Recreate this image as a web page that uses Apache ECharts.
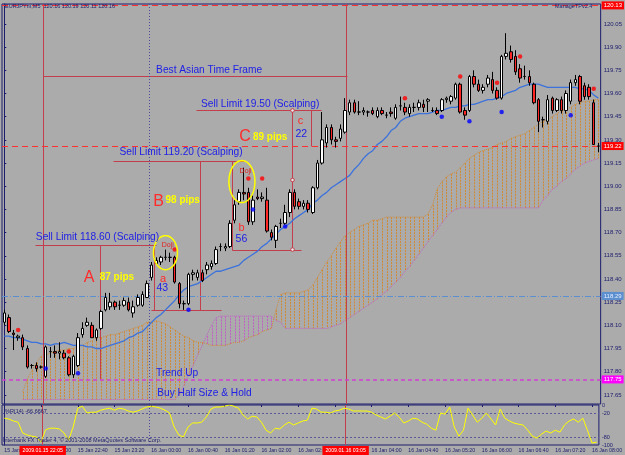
<!DOCTYPE html>
<html lang="en">
<head>
<meta charset="UTF-8">
<title>EURJPYm,M5</title>
<script src="https://cdn.jsdelivr.net/npm/echarts@6/dist/echarts.min.js"></script>
<style>
    html, body { margin: 0; padding: 0; background: #ababab; }
    #main { width: 625px; height: 455px; }
</style>
</head>
<body>
<div id="main"></div>
<script>
// M5 bars, 15 Jan 21:20 -> 16 Jan 08:05
var opens = [118.12,118.15,118.05,118.02,118.02,117.95,117.84,117.84,117.83,117.77,
    117.93,117.93,117.92,117.92,117.89,117.78,117.84,118.04,118.10,118.10,
    118.02,118.08,118.20,118.22,118.25,118.23,118.23,118.25,118.18,118.23,
    118.23,118.28,118.41,118.50,118.51,118.54,118.54,118.54,118.37,118.24,
    118.24,118.43,118.41,118.44,118.46,118.48,118.50,118.61,118.60,118.61,
    118.78,118.90,118.96,118.96,118.77,118.93,118.92,118.91,118.70,118.65,
    118.76,118.76,118.83,118.96,118.90,118.87,118.89,118.83,118.99,119.15,
    119.28,119.38,119.30,119.31,119.35,119.48,119.54,119.48,119.48,119.48,
    119.49,119.45,119.49,119.46,119.48,119.44,119.52,119.51,119.47,119.51,
    119.51,119.53,119.55,119.49,119.49,119.49,119.56,119.55,119.57,119.66,
    119.49,119.49,119.71,119.66,119.62,119.66,119.69,119.62,119.57,119.84,
    119.87,119.84,119.76,119.71,119.71,119.66,119.56,119.43,119.42,119.57,
    119.49,119.56,119.49,119.55,119.67,119.71,119.65,119.64,119.54,119.26];
var closes = [118.18,118.06,118.04,118.03,117.96,117.83,117.84,117.82,117.83,117.96,
    117.93,117.92,117.93,117.89,117.78,117.90,118.02,118.08,118.12,118.02,
    118.07,118.19,118.28,118.25,118.22,118.23,118.26,118.20,118.22,118.28,
    118.30,118.37,118.49,118.52,118.54,118.54,118.54,118.38,118.24,118.24,
    118.43,118.44,118.44,118.39,118.49,118.50,118.59,118.61,118.61,118.76,
    118.88,118.96,118.95,118.77,118.91,118.92,118.93,118.71,118.67,118.74,
    118.76,118.83,118.96,118.87,118.87,118.89,118.85,118.99,119.15,119.30,
    119.38,119.30,119.29,119.37,119.49,119.54,119.48,119.48,119.49,119.48,
    119.47,119.49,119.47,119.46,119.47,119.51,119.52,119.48,119.51,119.51,
    119.54,119.51,119.56,119.49,119.47,119.56,119.57,119.58,119.66,119.48,
    119.46,119.71,119.66,119.62,119.64,119.70,119.62,119.57,119.84,119.86,
    119.82,119.74,119.70,119.71,119.67,119.54,119.42,119.43,119.56,119.49,
    119.56,119.49,119.60,119.67,119.69,119.55,119.58,119.58,119.27,119.26];
var lows = [118.10,118.05,117.94,118.00,117.94,117.82,117.82,117.80,117.82,117.76,
    117.89,117.89,117.88,117.88,117.77,117.76,117.83,118.02,118.09,118.02,
    118.00,118.07,118.19,118.20,118.20,118.20,118.22,118.19,118.15,118.22,
    118.22,118.28,118.39,118.49,118.49,118.52,118.51,118.37,118.21,118.20,
    118.23,118.39,118.39,118.38,118.43,118.46,118.49,118.58,118.58,118.60,
    118.76,118.88,118.91,118.75,118.75,118.91,118.90,118.70,118.65,118.60,
    118.73,118.75,118.80,118.85,118.85,118.85,118.83,118.82,118.98,119.14,
    119.25,119.27,119.25,119.29,119.34,119.46,119.47,119.46,119.46,119.45,
    119.46,119.44,119.46,119.44,119.45,119.43,119.49,119.46,119.45,119.48,
    119.49,119.48,119.48,119.48,119.46,119.48,119.54,119.53,119.56,119.47,
    119.43,119.48,119.64,119.61,119.60,119.64,119.60,119.56,119.56,119.82,
    119.80,119.72,119.67,119.69,119.65,119.53,119.35,119.38,119.40,119.47,
    119.48,119.47,119.47,119.53,119.65,119.53,119.56,119.56,119.27,119.22];
var highs = [118.20,118.17,118.07,118.04,118.04,117.97,117.85,117.86,117.84,117.97,
    117.96,117.97,117.99,117.94,117.90,117.91,118.05,118.12,118.15,118.12,
    118.08,118.20,118.31,118.31,118.26,118.26,118.28,118.28,118.26,118.30,
    118.32,118.39,118.51,118.54,118.55,118.59,118.57,118.55,118.38,118.26,
    118.44,118.46,118.46,118.46,118.51,118.52,118.61,118.63,118.63,118.78,
    118.91,118.98,119.12,118.99,118.94,118.98,118.96,118.99,118.72,118.75,
    118.79,118.88,118.98,118.98,118.92,118.91,118.91,119.00,119.17,119.48,
    119.40,119.40,119.32,119.40,119.57,119.56,119.56,119.55,119.51,119.49,
    119.51,119.51,119.51,119.48,119.51,119.53,119.58,119.54,119.53,119.54,
    119.56,119.56,119.57,119.51,119.51,119.57,119.58,119.59,119.67,119.67,
    119.51,119.72,119.75,119.69,119.66,119.72,119.74,119.64,119.85,119.99,
    119.91,119.88,119.79,119.78,119.75,119.67,119.57,119.45,119.59,119.58,
    119.57,119.58,119.62,119.69,119.72,119.72,119.67,119.66,119.56,119.28];

// blue moving average
var maLine = [118.03,118.03,118.02,118.02,118.01,118.00,117.99,117.99,117.98,117.98,
    117.97,117.98,117.98,117.99,117.98,117.97,117.97,117.97,117.96,117.96,
    117.95,117.95,117.96,117.97,117.98,117.99,118.00,118.02,118.03,118.05,
    118.06,118.09,118.12,118.15,118.17,118.20,118.23,118.26,118.30,118.33,
    118.35,118.36,118.37,118.39,118.41,118.43,118.45,118.45,118.46,118.47,
    118.48,118.49,118.52,118.54,118.56,118.58,118.61,118.63,118.66,118.69,
    118.72,118.74,118.76,118.79,118.81,118.83,118.85,118.89,118.91,118.94,
    118.96,118.99,119.01,119.03,119.05,119.07,119.11,119.14,119.18,119.21,
    119.23,119.27,119.29,119.32,119.36,119.38,119.42,119.44,119.45,119.46,
    119.47,119.47,119.47,119.48,119.49,119.49,119.50,119.51,119.51,119.52,
    119.52,119.53,119.53,119.54,119.55,119.56,119.56,119.57,119.58,119.60,
    119.61,119.62,119.64,119.65,119.66,119.66,119.66,119.65,119.64,119.64,
    119.64,119.64,119.64,119.64,119.64,119.63,119.63,119.62,119.59,119.57];

// ichimoku cloud edges
var spanA = [null,null,null,null,117.67,117.75,117.81,117.86,117.90,117.91,
    117.92,117.93,117.94,117.94,117.95,117.95,117.96,117.97,117.99,118.00,
    118.02,118.02,118.03,118.04,118.04,118.05,118.06,118.07,118.08,118.09,
    118.10,118.12,118.12,118.13,118.12,118.11,118.09,118.07,118.05,118.03,
    118.02,118.00,117.99,117.99,117.98,117.97,117.97,117.97,117.97,117.98,
    117.99,117.99,118.00,118.02,118.03,118.04,118.06,118.07,118.08,118.20,
    118.30,118.31,118.31,118.31,118.31,118.32,118.33,118.36,118.41,118.46,
    118.51,118.55,118.60,118.64,118.68,118.70,118.72,118.74,118.75,118.76,
    118.78,118.78,118.79,118.80,118.80,118.80,118.80,118.80,118.80,118.80,
    118.80,118.80,118.82,118.88,118.98,119.03,119.06,119.08,119.09,119.12,
    119.15,119.18,119.20,119.22,119.23,119.24,119.25,119.27,119.28,119.29,
    119.31,119.32,119.33,119.34,119.36,119.38,119.40,119.42,119.43,119.45,
    119.47,119.49,119.50,119.51,119.53,119.54,119.55,119.55,119.56,119.56];
var spanB = [null,null,null,null,117.62,117.62,117.62,117.62,117.62,117.62,
    117.62,117.62,117.62,117.62,117.62,117.62,117.62,117.62,117.62,117.62,
    117.62,117.62,117.62,117.62,117.62,117.62,117.62,117.62,117.62,117.62,
    117.62,117.62,117.62,117.62,117.62,117.62,117.62,117.62,117.65,117.71,
    117.78,117.84,117.91,117.97,118.04,118.10,118.15,118.16,118.16,118.16,
    118.16,118.16,118.16,118.16,118.16,118.16,118.16,118.16,118.16,118.13,
    118.12,118.08,118.08,118.08,118.08,118.08,118.08,118.08,118.08,118.08,
    118.08,118.09,118.10,118.11,118.13,118.15,118.17,118.19,118.21,118.23,
    118.25,118.27,118.30,118.32,118.35,118.38,118.41,118.45,118.48,118.52,
    118.56,118.60,118.64,118.68,118.72,118.76,118.80,118.83,118.85,118.86,
    118.86,118.86,118.86,118.86,118.86,118.86,118.86,118.86,118.86,118.86,
    118.86,118.86,118.86,118.86,118.86,118.86,118.86,118.91,118.94,118.98,
    119.00,119.03,119.05,119.08,119.11,119.13,119.15,119.16,119.17,119.18];

// fractals [bar, price]
var fractalUp = [[3,118.07],[14,117.93],[37,118.59],[53,119.05],[56,119.05],[87,119.57],[99,119.71],[107,119.67],[112,119.84],[128,119.63]];
var fractalDown = [[9,117.82],[16,117.79],[40,118.20],[54,118.85],[61,118.74],[95,119.45],[101,119.42],[108,119.48],[123,119.46]];

// Williams %R(14)
var wpr = [-33,-35,-40,-43,-70,-75,-78,-80,-93,-62,
    -58,-58,-60,-70,-88,-55,-8,-3,-20,-18,
    -18,-13,-10,-8,-13,-8,-10,-15,-18,-15,
    -10,-5,-3,-5,-8,-13,-20,-55,-75,-80,
    -55,-45,-45,-43,-30,-10,-5,-5,-3,0,
    -3,-8,-25,-35,-28,-30,-43,-63,-70,-58,
    -60,-50,-43,-50,-45,-40,-38,-8,-10,-18,
    -18,-20,-15,-13,-8,-10,-15,-15,-15,-15,
    -18,-25,-30,-35,-28,-20,-30,-45,-40,-33,
    -35,-43,-48,-58,-63,-20,-23,-5,-55,-78,
    -63,-8,-25,-43,-33,-20,-35,-50,-10,-33,
    -40,-45,-48,-50,-63,-78,-83,-73,-65,-70,
    -63,-68,-50,-40,-35,-43,-33,-63,-95,-93];

var priceTicks = [117.65,117.80,117.95,118.10,118.25,118.40,118.55,118.70,118.85,119.00,119.15,119.30,119.45,119.60,119.75,119.90,120.05];
var wprTicks = [0, -20, -80, -100];

// horizontal price lines and their right-hand tags
var priceLines = [120.175, 119.26, 118.29, 117.75, 117.90];
var priceTags = ['120.13', '119.22', '118.29', '117.75', '117.90'];

// vertical line objects (bar position) and their time tags
var vLines = [8.37, 74.34];
var vTags = ['2009.01.15 22:05', '2009.01.16 03:05'];
var daySep = [31.51];

// box / trend segments [bar1, price1, bar2, price2]
var segments = [
    [8.37, 119.71, 74.34, 119.71],
    [6.64, 118.62, 33.03, 118.62],
    [20.70, 118.62, 20.70, 117.75],
    [32.60, 118.62, 32.60, 118.20],
    [31.95, 118.20, 47.09, 118.20],
    [23.51, 119.16, 52.06, 119.16],
    [42.55, 119.16, 42.55, 118.20],
    [49.47, 119.16, 49.47, 118.59],
    [49.47, 118.59, 64.39, 118.59],
    [41.68, 119.49, 68.72, 119.49],
    [66.56, 119.49, 66.56, 119.26],
    [62.45, 119.49, 62.45, 118.59]
];
var handles = [[62.45, 119.49], [62.45, 119.04], [62.45, 118.59]];

// chart text objects
var noteTexts = ['Best Asian Time Frame', 'Sell Limit 19.50 (Scalping)', 'Sell Limit 119.20 (Scalping)', 'Sell Limit 118.60 (Scalping)',
    'C', '89 pips', 'c', '22', 'B', '98 pips', 'b', '56', 'A', '87 pips', 'a', '43', 'Doji', 'Doji', 'Trend Up', 'Buy Half Size & Hold'];
var noteBars = [32.96, 42.70, 25.00, 6.85, 52.3, 54.0, 64.3, 64.5, 33.5, 35.0, 51.5, 51.5, 18.4, 20.7, 34.5, 34.3, 35.5, 52.4, 32.96, 33.2];
var notePrices = [119.75, 119.53, 119.22, 118.67, 119.32, 119.32, 119.42, 119.34, 118.90, 118.91, 118.73, 118.66, 118.41, 118.41, 118.40, 118.34, 118.62, 119.10, 117.79, 117.66];
var noteKinds = ['blue', 'blue', 'blue', 'blue', 'big', 'pips', 'small', 'num', 'big', 'pips', 'small', 'num', 'big', 'pips', 'small', 'num', 'doji', 'doji', 'blue', 'blue'];

// doji rings [bar, price]
var rings = [[35.0, 118.57], [51.6, 119.03]];

var navy = '#1c1c6e';
var boxRed = '#c23e4c';
var font = 'Liberation Sans, Arial, sans-serif';

var times = [];
function pad(n) { return n < 10 ? '0' + n : '' + n; }
for (var i = 0; i < opens.length; i++) {
    var d = new Date(Date.UTC(2009, 0, 15, 21, 20) + i * 300000);
    times.push(d.getUTCDate() + ' Jan ' + pad(d.getUTCHours()) + ':' + pad(d.getUTCMinutes()));
}

var candles = opens.map(function (o, i) { return [o, closes[i], lows[i], highs[i]]; });
var kumo = [];
spanA.forEach(function (a, i) { if (a !== null && spanB[i] !== null) kumo.push([i, a, spanB[i]]); });

var kindStyle = {
    blue:  {font: '10.2px ' + font, fill: '#2020e6', align: 'left'},
    big:   {font: '16px ' + font, fill: '#ff2a2a', align: 'center'},
    pips:  {font: 'bold 10px ' + font, fill: '#ffff00', align: 'left'},
    small: {font: '11px ' + font, fill: '#ff2a2a', align: 'center'},
    num:   {font: '10.5px ' + font, fill: '#2020e6', align: 'center'},
    doji:  {font: '7px ' + font, fill: '#e02020', align: 'center'}
};
var tagStyles = [
    {line: {color: '#ff3030', type: [6, 4], width: 1}, bg: '#ff0000', fg: '#ffffff'},
    {line: {color: '#ff3030', type: [6, 4], width: 1}, bg: '#ff0000', fg: '#ffffff'},
    {line: {color: '#5b8fd0', type: [6, 2, 1, 2], width: 1}, bg: '#5b8fd0', fg: '#e6eeff'},
    {line: {color: '#d040d0', type: [4, 3], width: 1.5}, bg: '#ff00ff', fg: '#ffffff'},
    {line: {color: '#ababab', opacity: 0}, bg: '#cfd9cf', fg: '#eef2ee'}
];

function px(v) { return Math.round(v) + 0.5; }

var myChart = echarts.init(document.getElementById('main'));

myChart.setOption({
    animation: false,
    backgroundColor: '#ababab',
    grid: [
        {left: 2, right: 22, top: 4, height: 400, show: true, borderColor: navy, borderWidth: 1},
        {left: 2, right: 22, top: 405, height: 40, show: true, borderColor: navy, borderWidth: 1}
    ],
    xAxis: [
        {type: 'category', gridIndex: 0, data: times, show: false},
        {type: 'value', gridIndex: 0, min: -0.5, max: 129.5, show: false},
        {
            type: 'category', gridIndex: 1, data: times,
            axisLine: {show: false},
            axisTick: {show: true, length: 2, alignWithLabel: true, interval: function (idx) { return idx % 8 === 0; }, lineStyle: {color: navy}},
            axisLabel: {
                interval: function (idx) { return idx % 8 === 0; },
                align: 'left', margin: 3, fontSize: 5.2, color: navy, fontFamily: font
            },
            splitLine: {show: false}
        },
        {type: 'value', gridIndex: 1, min: -0.5, max: 129.5, show: false}
    ],
    yAxis: [
        {
            type: 'value', gridIndex: 0, position: 'right', min: 117.591, max: 120.179,
            splitLine: {show: false},
            axisLine: {show: true, lineStyle: {color: navy}},
            axisTick: {show: true, customValues: priceTicks, length: 2, lineStyle: {color: navy}},
            axisLabel: {customValues: priceTicks, formatter: function (v) { return v.toFixed(2); }, fontSize: 6, color: navy, margin: 3, fontFamily: font}
        },
        {
            type: 'value', gridIndex: 1, position: 'right', min: -100, max: 0,
            splitLine: {show: false},
            axisLine: {show: true, lineStyle: {color: navy}},
            axisTick: {show: false},
            axisLabel: {customValues: wprTicks, fontSize: 5.5, color: navy, margin: 3, fontFamily: font}
        }
    ],
    graphic: [
        {type: 'text', left: 5, top: 3, z: 50, style: {text: 'EURJPYm,M5  120.16 120.19 120.11 120.16', fill: navy, font: '5.5px ' + font}},
        {type: 'text', left: 555, top: 3, z: 50, style: {text: 'ManageTPv2.4', fill: navy, font: '5.5px ' + font}},
        {type: 'text', left: 5, top: 408, z: 50, style: {text: '%R(14) -66.6667', fill: navy, font: '5.5px ' + font}},
        {type: 'text', left: 3, top: 437, z: 50, style: {text: 'Interbank FX Trader 4, \u00a9 2001-2008 MetaQuotes Software Corp.', fill: navy, font: '5.5px ' + font}}
    ],
    series: [
        {
            name: 'kumo', type: 'custom', xAxisIndex: 1, yAxisIndex: 0, z: 1, silent: true,
            data: kumo,
            renderItem: function (params, api) {
                var a = api.coord([api.value(0), api.value(1)]);
                var b = api.coord([api.value(0), api.value(2)]);
                return {
                    type: 'line',
                    shape: {x1: px(a[0]), y1: a[1], x2: px(b[0]), y2: b[1]},
                    style: {stroke: api.value(1) >= api.value(2) ? '#d08a34' : '#c060c4', lineWidth: 1, lineDash: [2, 1]}
                };
            }
        },
        {
            name: 'Senkou A', type: 'line', xAxisIndex: 1, yAxisIndex: 0, z: 2, silent: true,
            data: spanA.map(function (v, i) { return [i, v]; }),
            showSymbol: false, connectNulls: false,
            lineStyle: {color: '#d08a34', width: 1, type: [1, 1]},
            markLine: {
                silent: true, symbol: 'none',
                label: {show: false},
                data: vLines.map(function (v) { return {xAxis: v, lineStyle: {color: boxRed, type: 'solid', width: 1}}; })
                    .concat(daySep.map(function (v) { return {xAxis: v, lineStyle: {color: '#4a4aa0', type: [1, 2], width: 1}}; }))
            }
        },
        {
            name: 'Senkou B', type: 'line', xAxisIndex: 1, yAxisIndex: 0, z: 2, silent: true,
            data: spanB.map(function (v, i) { return [i, v]; }),
            showSymbol: false, connectNulls: false,
            lineStyle: {color: '#c060c4', width: 1, type: [1, 1]}
        },
        {
            name: 'boxes', type: 'custom', xAxisIndex: 1, yAxisIndex: 0, z: 3, silent: true,
            data: segments,
            renderItem: function (params, api) {
                var a = api.coord([api.value(0), api.value(1)]);
                var b = api.coord([api.value(2), api.value(3)]);
                return {
                    type: 'line',
                    shape: {x1: px(a[0]), y1: px(a[1]), x2: px(b[0]), y2: px(b[1])},
                    style: {stroke: boxRed, lineWidth: 1}
                };
            }
        },
        {
            name: 'handles', type: 'custom', xAxisIndex: 1, yAxisIndex: 0, z: 8, silent: true,
            data: handles,
            renderItem: function (params, api) {
                var c = api.coord([api.value(0), api.value(1)]);
                return {type: 'circle', shape: {cx: px(c[0]), cy: c[1], r: 1.8}, style: {fill: '#e8e8e8', stroke: boxRed, lineWidth: 1}};
            }
        },
        {
            name: 'MA', type: 'line', xAxisIndex: 0, yAxisIndex: 0, z: 4, silent: true,
            data: maLine, showSymbol: false,
            lineStyle: {color: '#3c72dc', width: 1.3}
        },
        {
            name: 'EURJPYm', type: 'candlestick', xAxisIndex: 0, yAxisIndex: 0, z: 5, silent: true,
            data: candles, barWidth: 3,
            itemStyle: {color: '#ffffff', color0: '#ff2626', borderColor: '#000000', borderColor0: '#000000', borderWidth: 1},
            markLine: {
                silent: true, symbol: 'none',
                data: priceLines.map(function (v, k) {
                    return {
                        yAxis: v,
                        lineStyle: tagStyles[k].line,
                        label: {
                            show: true, position: 'end', distance: 1, formatter: priceTags[k],
                            backgroundColor: tagStyles[k].bg, color: tagStyles[k].fg,
                            fontSize: 6, padding: [1, 2], fontFamily: font
                        }
                    };
                })
            }
        },
        {
            name: 'fractal up', type: 'scatter', xAxisIndex: 0, yAxisIndex: 0, z: 6, silent: true,
            data: fractalUp, symbol: 'circle', symbolSize: 4.5,
            itemStyle: {color: '#ff0000'}
        },
        {
            name: 'fractal down', type: 'scatter', xAxisIndex: 0, yAxisIndex: 0, z: 6, silent: true,
            data: fractalDown, symbol: 'circle', symbolSize: 4.5,
            itemStyle: {color: '#0000ff'}
        },
        {
            name: 'rings', type: 'custom', xAxisIndex: 1, yAxisIndex: 0, z: 7, silent: true,
            data: rings,
            renderItem: function (params, api) {
                var c = api.coord([api.value(0), api.value(1)]);
                var rx = params.dataIndex === 0 ? 12 : 13, ry = params.dataIndex === 0 ? 17 : 21;
                var pts = [];
                for (var k = 0; k < 48; k++) {
                    var t = k / 48 * Math.PI * 2;
                    pts.push([c[0] + rx * Math.cos(t), c[1] + ry * Math.sin(t)]);
                }
                return {type: 'polygon', shape: {points: pts}, style: {fill: 'none', stroke: '#ffff00', lineWidth: 1.5}};
            }
        },
        {
            name: 'notes', type: 'custom', xAxisIndex: 1, yAxisIndex: 0, z: 9, silent: true,
            data: noteBars.map(function (b, k) { return [b, notePrices[k]]; }),
            renderItem: function (params, api) {
                var k = params.dataIndex;
                var c = api.coord([api.value(0), api.value(1)]);
                var s = kindStyle[noteKinds[k]];
                return {
                    type: 'text', x: c[0], y: c[1],
                    style: {
                        text: noteTexts[k], fill: s.fill, font: s.font,
                        align: s.align, textAlign: s.align,
                        verticalAlign: 'middle', textVerticalAlign: 'middle'
                    }
                };
            }
        },
        {
            name: '%R(14)', type: 'line', xAxisIndex: 3, yAxisIndex: 1, z: 5, silent: true,
            data: wpr.map(function (v, i) { return [i, v]; }), showSymbol: false,
            lineStyle: {color: '#ffff00', width: 1},
            markLine: {
                silent: true, symbol: 'none',
                data: [
                    {yAxis: -20, lineStyle: {color: '#5a5a9a', type: [2, 2], width: 1}, label: {show: false}},
                    {yAxis: -80, lineStyle: {color: '#5a5a9a', type: [2, 2], width: 1}, label: {show: false}}
                ].concat(vLines.map(function (v, k) {
                    return {
                        xAxis: v,
                        lineStyle: {color: boxRed, type: 'solid', width: 1},
                        label: {
                            show: true, position: 'start', distance: 1, formatter: vTags[k],
                            backgroundColor: '#ff0000', color: '#ffffff', fontSize: 5.2,
                            padding: [2, 3], fontFamily: font
                        }
                    };
                })).concat(daySep.map(function (v) {
                    return {xAxis: v, lineStyle: {color: '#4a4aa0', type: [1, 2], width: 1}, label: {show: false}};
                }))
            }
        }
    ]
});

window.addEventListener('resize', function () {
    myChart.resize();
});
</script>
</body>
</html>
